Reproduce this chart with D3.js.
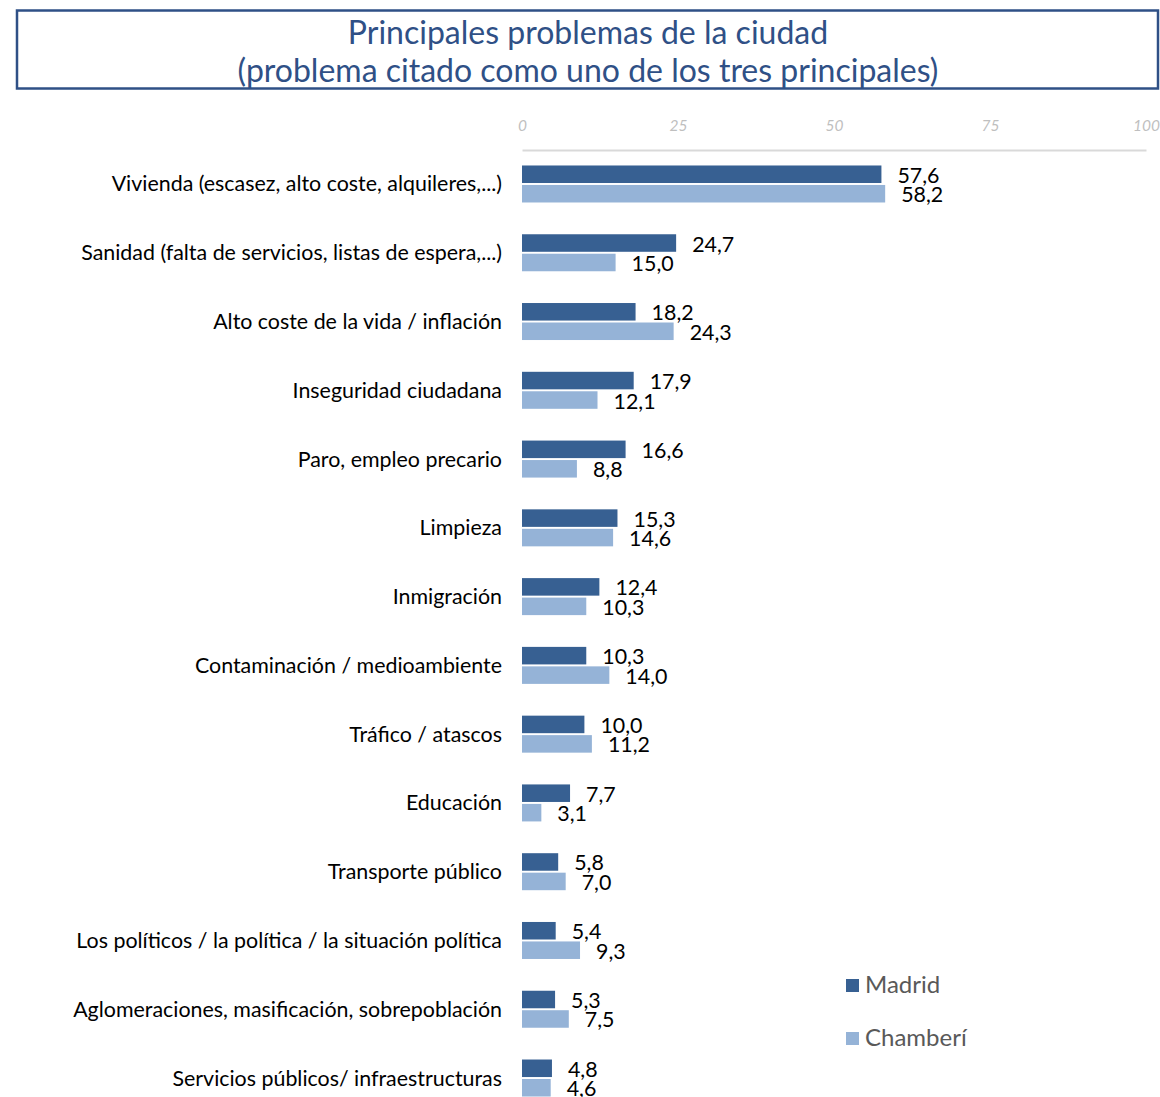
<!DOCTYPE html>
<html>
<head>
<meta charset="utf-8">
<script src="https://cdn.jsdelivr.net/npm/d3@7/dist/d3.min.js"></script>
<style>
  body { margin: 0; background: #fff; }
  svg { display: block; font-family: Lato, 'Open Sans', sans-serif; }
</style>
</head>
<body>
<svg id="chart" width="1160" height="1097"></svg>
<script>
const titleLines = ['Principales problemas de la ciudad', '(problema citado como uno de los tres principales)']

const categories = [
  'Vivienda (escasez, alto coste, alquileres,...)',
  'Sanidad (falta de servicios, listas de espera,...)',
  'Alto coste de la vida / inflación',
  'Inseguridad ciudadana',
  'Paro, empleo precario',
  'Limpieza',
  'Inmigración',
  'Contaminación / medioambiente',
  'Tráfico / atascos',
  'Educación',
  'Transporte público',
  'Los políticos / la política / la situación política',
  'Aglomeraciones, masificación, sobrepoblación',
  'Servicios públicos/ infraestructuras'
]

const series = ['Madrid', 'Chamberí']
const madrid = [57.6, 24.7, 18.2, 17.9, 16.6, 15.3, 12.4, 10.3, 10.0, 7.7, 5.8, 5.4, 5.3, 4.8]
const chamberi = [58.2, 15.0, 24.3, 12.1, 8.8, 14.6, 10.3, 14.0, 11.2, 3.1, 7.0, 9.3, 7.5, 4.6]
const ticks = [0, 25, 50, 75, 100]

const colors = { 'Madrid': '#376092', 'Chamberí': '#95b3d7' }

const svg = d3.select('#chart')

// title box
svg.append('rect')
  .attr('x', 17).attr('y', 10.5)
  .attr('width', 1141).attr('height', 78)
  .attr('fill', 'none')
  .attr('stroke', '#2f5086')
  .attr('stroke-width', 2.5)

svg.append('g').selectAll('text')
  .data(titleLines)
  .join('text')
    .attr('x', 588)
    .attr('y', (d, i) => 44 + i * 37.5)
    .attr('text-anchor', 'middle')
    .attr('fill', '#2f5086')
    .style('font-size', '32px')
    .text(d => d)

const x = d3.scaleLinear().domain([0, 100]).range([522, 1146])

const y = d3.scaleBand()
  .domain(categories)
  .range([149.6, 1112.4])

const inner = d3.scaleBand()
  .domain(series)
  .range([-18.5, 18.5])
  .paddingInner(0.1)

// top axis
const axis = svg.append('g')
  .attr('transform', 'translate(0,150)')
  .call(d3.axisTop(x).tickValues(ticks).tickSize(0).tickPadding(19))
axis.select('.domain').attr('stroke', '#d9d9d9').attr('stroke-width', 2)
axis.selectAll('text')
  .attr('fill', '#bfbfbf')
  .style('font-size', '15.5px')
  .style('font-style', 'italic')
  .style('font-family', 'Lato, sans-serif')

// category labels
svg.append('g').selectAll('text')
  .data(categories)
  .join('text')
    .attr('x', 502)
    .attr('y', d => y(d) + y.bandwidth() / 2)
    .attr('dy', '0.35em')
    .attr('text-anchor', 'end')
    .attr('fill', '#000')
    .style('font-size', '21.4px')
    .text(d => d)

const rows = categories.map((c, i) => ({ cat: c, values: [
  { key: 'Madrid', value: madrid[i] },
  { key: 'Chamberí', value: chamberi[i] }
]}))

const fmt = v => d3.format('.1f')(v).replace('.', ',')

const groups = svg.append('g').selectAll('g')
  .data(rows)
  .join('g')
    .attr('transform', d => `translate(0,${y(d.cat) + y.bandwidth() / 2})`)

groups.selectAll('rect')
  .data(d => d.values)
  .join('rect')
    .attr('x', x(0))
    .attr('y', d => inner(d.key))
    .attr('width', d => x(d.value) - x(0))
    .attr('height', inner.bandwidth())
    .attr('fill', d => colors[d.key])

groups.selectAll('text')
  .data(d => d.values)
  .join('text')
    .attr('x', d => x(d.value) + 16)
    .attr('y', d => inner(d.key) + inner.bandwidth() / 2 + 1)
    .attr('dy', '0.35em')
    .attr('fill', '#000')
    .style('font-size', '21.4px')
    .text(d => fmt(d.value))

// legend
const legend = svg.append('g').selectAll('g')
  .data(series)
  .join('g')
    .attr('transform', (d, i) => `translate(846,${985 + i * 53})`)

legend.append('rect')
  .attr('x', 0).attr('y', -6)
  .attr('width', 13).attr('height', 13)
  .attr('fill', d => colors[d])

legend.append('text')
  .attr('x', 19)
  .attr('dy', '0.35em')
  .attr('fill', '#595959')
  .style('font-size', '24px')
  .text(d => d)
</script>
</body>
</html>
